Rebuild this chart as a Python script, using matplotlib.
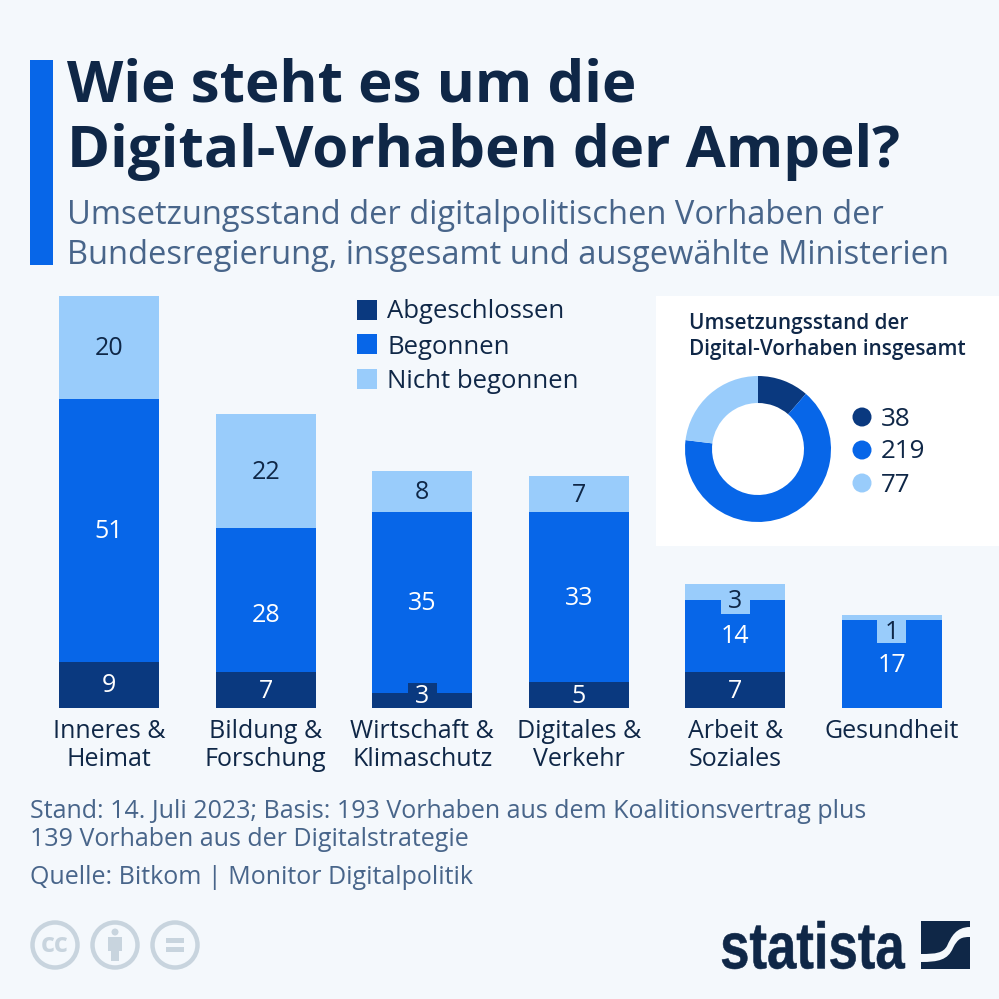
import matplotlib
matplotlib.use('Agg')
import matplotlib.pyplot as plt
from matplotlib.patches import Rectangle, Circle, PathPatch
from matplotlib.path import Path
from matplotlib.textpath import TextPath
from matplotlib.font_manager import FontProperties
from matplotlib.transforms import Affine2D

plt.rcParams['font.family'] = ['Open Sans', 'DejaVu Sans']

categories = ['Inneres &\nHeimat', 'Bildung &\nForschung', 'Wirtschaft &\nKlimaschutz',
              'Digitales &\nVerkehr', 'Arbeit &\nSoziales', 'Gesundheit']
abgeschlossen = [9, 7, 3, 5, 7, 0]
begonnen = [51, 28, 35, 33, 14, 17]
nicht_begonnen = [20, 22, 8, 7, 3, 1]
series_names = ['Abgeschlossen', 'Begonnen', 'Nicht begonnen']
totals = [38, 219, 77]

BG = '#f4f8fc'
DARK = '#0a397f'
MID = '#0766e8'
LIGHT = '#99ccfb'
INK = '#0f2747'
GREY = '#48658a'
colors = [DARK, MID, LIGHT]

# label height where it is not the middle of its segment: (series, bar) -> y in data units
label_y = {(0, 2): 2.2, (2, 4): 20.6, (2, 5): 14.6, (1, 1): 18.0}
# tabs behind labels of thin segments: (series, bar) -> (from, to) in data units
tabs = {(0, 2): (0, 4.9), (2, 4): (18.3, 21), (2, 5): (12.6, 17)}
TAB_W = 0.185


def px(size):
    return size * 0.72


fig = plt.figure(figsize=(9.99, 9.99), dpi=100, facecolor=BG)
bg = fig.add_axes([0, 0, 1, 1])
bg.set_xlim(0, 999)
bg.set_ylim(999, 0)
bg.axis('off')

# header
bg.add_patch(Rectangle((30, 60), 23, 205, color=MID, lw=0))
bg.text(67, 87, 'Wie steht es um die', fontsize=px(58.3), fontweight='bold', color=INK, va='center')
bg.text(67, 152, 'Digital-Vorhaben der Ampel?', fontsize=px(58.3), fontweight='bold', color=INK, va='center')
bg.text(67, 216, 'Umsetzungsstand der digitalpolitischen Vorhaben der', fontsize=px(32.7), color=GREY, va='center')
bg.text(67, 256, 'Bundesregierung, insgesamt und ausgewählte Ministerien', fontsize=px(32.7), color=GREY, va='center')

# stacked bars
ax = fig.add_axes([59 / 999, 1 - 708 / 999, 883 / 999, 412 / 999])
ax.set_xlim(-0.32, 5.32)
ax.set_ylim(0, 80)
ax.axis('off')
xs = list(range(len(categories)))
bottom = [0] * len(xs)
for s, (vals, col) in enumerate(zip([abgeschlossen, begonnen, nicht_begonnen], colors)):
    ax.bar(xs, vals, bottom=bottom, width=0.639, color=col, lw=0, zorder=2 + s * 0.1)
    for x, v, b in zip(xs, vals, bottom):
        if v == 0:
            continue
        if (s, x) in tabs:
            lo, hi = tabs[(s, x)]
            ax.bar(x, hi - lo, bottom=lo, width=TAB_W, color=col, lw=0, zorder=3)
        ax.text(x, label_y.get((s, x), b + v / 2 - 0.2), str(v), ha='center', va='center', fontsize=px(25),
                color=INK if col == LIGHT else 'white', zorder=4)
    bottom = [b + v for b, v in zip(bottom, vals)]
for x, c in zip(xs, categories):
    ax.annotate(c, (x, 0), xytext=(0, -7.8), textcoords='offset points', ha='center', va='top',
                fontsize=px(25), color=INK, linespacing=1.18)

# legend
for y, name, col, dy in zip([310, 344, 379], series_names, colors, [2, 3, 2]):
    bg.add_patch(Rectangle((357, y - 10), 20, 20, color=col, lw=0))
    bg.text(387, y + dy, name, fontsize=px(25.8), color=INK, va='center')

# donut panel
bg.add_patch(Rectangle((656, 296), 343, 250, color='white', lw=0))
bg.text(689, 324, 'Umsetzungsstand der', fontsize=px(20.8), fontweight='semibold', color=INK, va='center')
bg.text(689, 349, 'Digital-Vorhaben insgesamt', fontsize=px(20.8), fontweight='semibold', color=INK, va='center')
dax = fig.add_axes([685 / 999, 1 - 522 / 999, 146 / 999, 146 / 999])
dax.pie(totals, colors=colors, startangle=90, counterclock=False, radius=1,
        wedgeprops=dict(width=0.37, lw=0))
dax.set_xlim(-1, 1)
dax.set_ylim(-1, 1)
for y, v, col in zip([417, 450, 483], totals, colors):
    bg.add_patch(Circle((862, y), 9.5, color=col, lw=0))
    bg.text(881, y + 2, str(v), fontsize=px(26), color=INK, va='center')

# notes
bg.text(30, 811, 'Stand: 14. Juli 2023; Basis: 193 Vorhaben aus dem Koalitionsvertrag plus', fontsize=px(25), color=GREY, va='center')
bg.text(30, 840, '139 Vorhaben aus der Digitalstrategie', fontsize=px(25), color=GREY, va='center')
bg.text(30, 877, 'Quelle: Bitkom | Monitor Digitalpolitik', fontsize=px(25), color=GREY, va='center')

# cc icons
ICON = '#c8d4de'
for cx in [55, 115, 175]:
    bg.add_patch(Circle((cx, 945), 22.5, fc='none', ec=ICON, lw=3.2))
bg.text(55, 945, 'cc', fontsize=px(27), fontweight='bold', color=ICON, ha='center', va='center')
bg.add_patch(Circle((115, 932), 3.5, color=ICON, lw=0))
bg.add_patch(Rectangle((108, 937), 14, 14, color=ICON, lw=0))
bg.add_patch(Rectangle((111, 950), 8, 11, color=ICON, lw=0))
bg.add_patch(Rectangle((166, 938), 18, 5, color=ICON, lw=0))
bg.add_patch(Rectangle((166, 947), 18, 5, color=ICON, lw=0))

# statista logo
tp = TextPath((0, 0), 'statista', size=10, prop=FontProperties(family='Liberation Sans', weight='bold'))
ext = tp.get_extents()
tr = (Affine2D().translate(-ext.x0, -ext.y0)
      .scale(183 / ext.width, -48 / ext.height).translate(722, 969))
bg.add_patch(PathPatch(tr.transform_path(tp), fc=INK, ec=INK, lw=0.4))
bg.add_patch(Rectangle((921, 921), 49, 48, color=INK, lw=0))
C = Path.CURVE4
swoosh = Path([(970, 927), (956, 927), (951, 937), (947, 946), (943, 953), (936, 954), (921, 954),
               (921, 962), (938, 962), (948, 960), (953, 948), (958, 938), (962, 937), (970, 937), (970, 927)],
              [Path.MOVETO, C, C, C, C, C, C, Path.LINETO, C, C, C, C, C, C, Path.CLOSEPOLY])
bg.add_patch(PathPatch(swoosh, fc=BG, ec='none'))

fig.savefig('out.png', dpi=100, facecolor=BG)
